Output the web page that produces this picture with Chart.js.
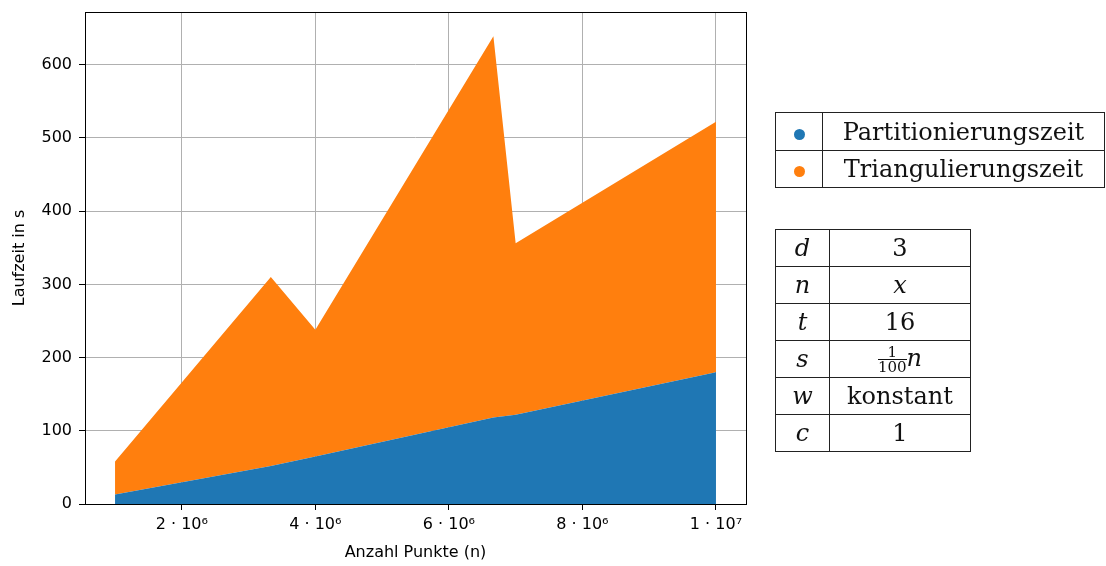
<!DOCTYPE html>
<html>
<head>
<meta charset="utf-8">
<script src="https://cdn.jsdelivr.net/npm/chart.js@4/dist/chart.umd.min.js"></script>
<style>
  html, body { margin: 0; padding: 0; background: #fff; }
  #wrap { position: relative; width: 1106px; height: 566px; }
  canvas { position: absolute; left: 0; top: 0; }
  table { position: absolute; border-collapse: collapse; font-family: "DejaVu Serif", serif; font-size: 24px; color: #111; }
  td { border: 1px solid #222; padding: 0; text-align: center; vertical-align: middle; }
  .dot { display: inline-block; width: 11px; height: 11px; border-radius: 50%; }
  .m { font-style: italic; }
  .frac { display: inline-block; vertical-align: middle; text-align: center; font-size: 15px; line-height: 14px; }
  .frac span { display: block; }
  .frac .num { border-bottom: 1px solid #111; padding: 0 1px; }
</style>
</head>
<body>
<div id="wrap">
  <canvas id="chart" width="1106" height="566"></canvas>
  <table id="legend" style="left:775px; top:112px; width:330px;">
    <tr style="height:38px"><td style="width:46px"><span class="dot" style="background:#1f77b4"></span></td><td>Partitionierungszeit</td></tr>
    <tr style="height:37px"><td><span class="dot" style="background:#ff7f0e"></span></td><td>Triangulierungszeit</td></tr>
  </table>
  <table id="params" style="left:775px; top:229px; width:196px;">
    <tr style="height:37px"><td style="width:53px" class="m">d</td><td>3</td></tr>
    <tr style="height:37px"><td class="m">n</td><td class="m">x</td></tr>
    <tr style="height:37px"><td class="m">t</td><td>16</td></tr>
    <tr style="height:37px"><td class="m">s</td><td><span class="frac"><span class="num">1</span><span>100</span></span><span class="m">n</span></td></tr>
    <tr style="height:37px"><td class="m">w</td><td>konstant</td></tr>
    <tr style="height:37px"><td class="m">c</td><td>1</td></tr>
  </table>
</div>
<script>
// Daten
const punkte = [1000000, 3333333, 4000000, 6666667, 7000000, 10000000];
const partitionierung = [13, 52, 65, 118, 122, 180];
const triangulierung = [45, 258, 173, 521, 234, 342];
const xTicks = [2000000, 4000000, 6000000, 8000000, 10000000];
const xTickLabels = ['2 · 10⁶', '4 · 10⁶', '6 · 10⁶', '8 · 10⁶', '1 · 10⁷'];

const font = { family: 'DejaVu Sans', size: 16 };

// Rahmen um die Achsen
const boxPlugin = {
    id: 'box',
    afterDraw(chart) {
        const a = chart.chartArea, ctx = chart.ctx;
        ctx.save();
        ctx.strokeStyle = '#000';
        ctx.lineWidth = 1;
        ctx.strokeRect(Math.round(a.left) + 0.5, Math.round(a.top) + 0.5, Math.round(a.right - a.left), Math.round(a.bottom - a.top));
        ctx.restore();
    }
};

new Chart(document.getElementById('chart'), {
    type: 'line',
    data: {
        datasets: [
            { label: 'Partitionierungszeit', data: punkte.map((x, i) => ({ x, y: partitionierung[i] })),
              backgroundColor: '#1f77b4', borderWidth: 0, pointRadius: 0, fill: 'origin', tension: 0 },
            { label: 'Triangulierungszeit', data: punkte.map((x, i) => ({ x, y: triangulierung[i] })),
              backgroundColor: '#ff7f0e', borderWidth: 0, pointRadius: 0, fill: '-1', tension: 0 }
        ]
    },
    options: {
        responsive: false, animation: false,
        layout: { padding: { top: 12, right: 360, left: 0, bottom: 0 } },
        plugins: { legend: { display: false }, tooltip: { enabled: false } },
        scales: {
            x: {
                type: 'linear', min: 550000, max: 10450000, z: 1,
                afterBuildTicks: s => { s.ticks = xTicks.map(v => ({ value: v })); },
                afterFit: s => { s.height = 62; s.paddingLeft = 0; s.paddingRight = 0; },
                ticks: { color: '#000', font, padding: 5, callback: v => xTickLabels[xTicks.indexOf(v)] },
                grid: { color: '#b0b0b0', lineWidth: 1, tickColor: '#000', tickLength: 6 },
                border: { display: false },
                title: { display: true, text: 'Anzahl Punkte (n)', color: '#000', font, padding: { top: 1 } }
            },
            y: {
                stacked: true, min: 0, max: 672, z: 1,
                afterBuildTicks: s => { s.ticks = [0, 100, 200, 300, 400, 500, 600].map(v => ({ value: v })); },
                afterFit: s => { s.width = 85; s.paddingTop = 0; s.paddingBottom = 0; },
                ticks: { color: '#000', font, padding: 7 },
                grid: { color: '#b0b0b0', lineWidth: 1, tickColor: '#000', tickLength: 6 },
                border: { display: false },
                title: { display: true, text: 'Laufzeit in s', color: '#000', font, padding: { top: 10, bottom: 4 } }
            }
        }
    },
    plugins: [boxPlugin]
});
</script>
</body>
</html>
